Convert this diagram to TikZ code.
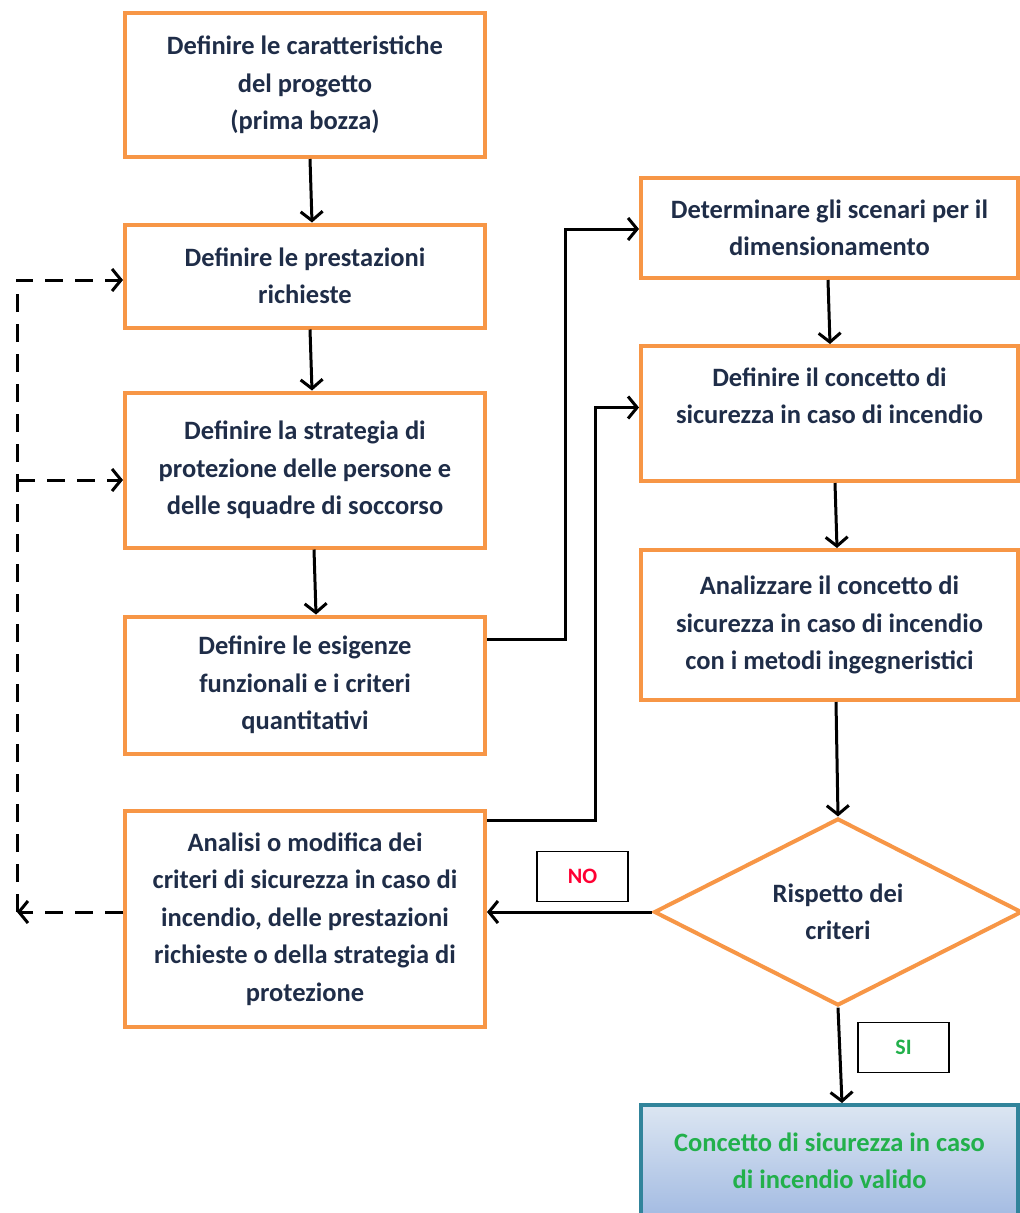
\documentclass[tikz,border=0pt]{standalone}
\usepackage{fontspec}
\setmainfont{Carlito}
\usetikzlibrary{shapes.geometric,arrows.meta,positioning}
\definecolor{boxorange}{HTML}{F79646}
\definecolor{txtnavy}{HTML}{1F2D48}
\definecolor{tealb}{HTML}{31849B}
\definecolor{fillt}{HTML}{DCE6F2}
\definecolor{fillb}{HTML}{A3BBE2}
\definecolor{okgreen}{HTML}{22B04B}
\definecolor{nored}{HTML}{FF0033}
\tikzset{
  stepbox/.style={draw=boxorange, line width=4pt, rectangle, align=center,
    font=\fontsize{26.5}{37.5}\selectfont\bfseries, text=txtnavy, inner sep=2pt},
  flow/.style={draw=black, line width=3pt, -{Straight Barb[length=9pt,width=22pt]}},
  dflow/.style={draw=black, line width=3pt, dash pattern=on 18pt off 12pt, -{Straight Barb[length=9pt,width=22pt]}},
  tagbox/.style={draw=black, line width=1.8pt, rectangle, minimum width=91pt, minimum height=50pt,
    font=\fontsize{22}{24}\selectfont\bfseries},
}
\begin{document}
\begin{tikzpicture}[x=1pt,y=1pt]
\useasboundingbox (0,0) rectangle (1020,-1213);
% left column
\node[stepbox, minimum width=360pt, minimum height=144pt] (b1) at (305,-85)
  {Definire le caratteristiche\\del progetto\\(prima bozza)};
\node[stepbox, minimum width=360pt, minimum height=103pt] (b2) at (305,-276)
  {Definire le prestazioni\\richieste};
\node[stepbox, minimum width=360pt, minimum height=155pt] (b3) at (305,-470)
  {Definire la strategia di\\protezione delle persone e\\delle squadre di soccorso};
\node[stepbox, minimum width=360pt, minimum height=137pt] (b4) at (305,-685)
  {Definire le esigenze\\funzionali e i criteri\\quantitativi};
\node[stepbox, minimum width=360pt, minimum height=216pt] (b5) at (305,-919)
  {Analisi o modifica dei\\criteri di sicurezza in caso di\\incendio, delle prestazioni\\richieste o della strategia di\\protezione};
% right column
\node[stepbox, minimum width=377pt, minimum height=100pt] (r1) at (829.5,-228)
  {Determinare gli scenari per il\\dimensionamento};
\node[stepbox, minimum width=377pt, minimum height=135pt, text depth=36pt] (r2) at (829.5,-413.5)
  {Definire il concetto di\\sicurezza in caso di incendio};
\node[stepbox, minimum width=377pt, minimum height=150pt] (r3) at (829.5,-625)
  {Analizzare il concetto di\\sicurezza in caso di incendio\\con i metodi ingegneristici};
\node[stepbox, diamond, minimum width=368pt, minimum height=185pt, inner sep=0pt] (d) at (838,-912)
  {Rispetto dei\\criteri};
\node[stepbox, draw=tealb, text=okgreen, top color=fillt, bottom color=fillb,
  minimum width=377pt, minimum height=112pt] (fin) at (829.5,-1161)
  {Concetto di sicurezza in caso\\di incendio valido};
% tags
\node[tagbox, text=nored] (no) at (582.5,-876.5) {NO};
\node[tagbox, text=okgreen] (si) at (903.5,-1047.5) {SI};
% vertical flows
\draw[flow] ([xshift=5pt]b1.south) -- ([xshift=7pt]b2.north);
\draw[flow] ([xshift=5pt]b2.south) -- ([xshift=7pt]b3.north);
\draw[flow] ([xshift=9pt]b3.south) -- ([xshift=11pt]b4.north);
\draw[flow] ([xshift=-1.5pt]r1.south) -- ([xshift=0.5pt]r2.north);
\draw[flow] ([xshift=5.5pt]r2.south) -- ([xshift=7.5pt]r3.north);
\draw[flow] ([xshift=6.5pt]r3.south) -- (d.north);
\draw[flow] (d.south) -- ([xshift=12.5pt]fin.north);
% elbow flows
\draw[flow] ([yshift=-25pt]b4.north east) -- ++(78,0) |- ([yshift=-1pt]r1.west);
\draw[flow] ([yshift=-11pt]b5.north east) -- ++(108,0) |- ([yshift=6pt]r2.west);
% NO branch
\draw[flow] (d.west) -- (d.west -| b5.east);
% dashed feedback
\coordinate (fb) at (17,-912);
\coordinate (fj) at (17,-480);
\draw[dflow] (b5.west |- d.west) -- (fb);
\draw[dflow] (fb) |- ([yshift=-4pt]b2.west);
\draw[dflow] (fj) -- ([yshift=-10pt]b3.west);
\end{tikzpicture}
\end{document}
